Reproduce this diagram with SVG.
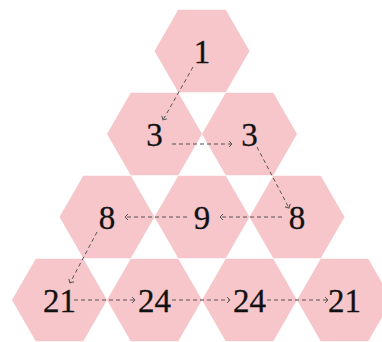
<svg xmlns="http://www.w3.org/2000/svg" xmlns:xlink="http://www.w3.org/1999/xlink" width="382" height="342" viewBox="0 0 382 342">
<style>
.hex{fill:#f6c6ca;}
.num{font-family:"Liberation Serif","DejaVu Serif",serif;font-size:33px;fill:#111;stroke:#111;stroke-width:0.3;text-anchor:middle;}
.arr{fill:none;stroke:#555;stroke-width:1;stroke-dasharray:4 3;marker-end:url(#ah);}
</style>
<defs>
<polygon id="hx" class="hex" points="-47.5,0 -23.75,-41.2 23.75,-41.2 47.5,0 23.75,41.2 -23.75,41.2"/>
<marker id="ah" markerUnits="userSpaceOnUse" markerWidth="10" markerHeight="10" refX="0" refY="0" viewBox="-5 -5 10 10" orient="auto">
<path d="M-3,-3 L0,0 L-3,3" fill="none" stroke="#555" stroke-width="1"/>
</marker>
</defs>
<rect width="382" height="342" fill="#fff"/>
<g id="n1" transform="translate(202,51)"><use xlink:href="#hx"/><text class="num" y="11.5">1</text></g>
<g id="n2a" transform="translate(154.5,134)"><use xlink:href="#hx"/><text class="num" y="11.5">3</text></g>
<g id="n2b" transform="translate(249.5,134)"><use xlink:href="#hx"/><text class="num" y="11.5">3</text></g>
<g id="n3a" transform="translate(107,217)"><use xlink:href="#hx"/><text class="num" y="11.5">8</text></g>
<g id="n3b" transform="translate(202,217)"><use xlink:href="#hx"/><text class="num" y="11.5">9</text></g>
<g id="n3c" transform="translate(297,217)"><use xlink:href="#hx"/><text class="num" y="11.5">8</text></g>
<g id="n4a" transform="translate(59.5,300)"><use xlink:href="#hx"/><text class="num" y="11.5">21</text></g>
<g id="n4b" transform="translate(154.5,300)"><use xlink:href="#hx"/><text class="num" y="11.5">24</text></g>
<g id="n4c" transform="translate(249.5,300)"><use xlink:href="#hx"/><text class="num" y="11.5">24</text></g>
<g id="n4d" transform="translate(344.5,300)"><use xlink:href="#hx"/><text class="num" y="11.5">21</text></g>
<g id="connectors">
<path class="arr" d="M193,67 L163,120"/>
<path class="arr" d="M172,144 L232,144"/>
<path class="arr" d="M257,147 L289,208"/>
<path class="arr" d="M282,217 L220,217"/>
<path class="arr" d="M187,217 L125,217"/>
<path class="arr" d="M97,232 L70,283"/>
<path class="arr" d="M74,300 L135,300"/>
<path class="arr" d="M172,300 L230,300"/>
<path class="arr" d="M267,300 L328,300"/>
</g>
</svg>
